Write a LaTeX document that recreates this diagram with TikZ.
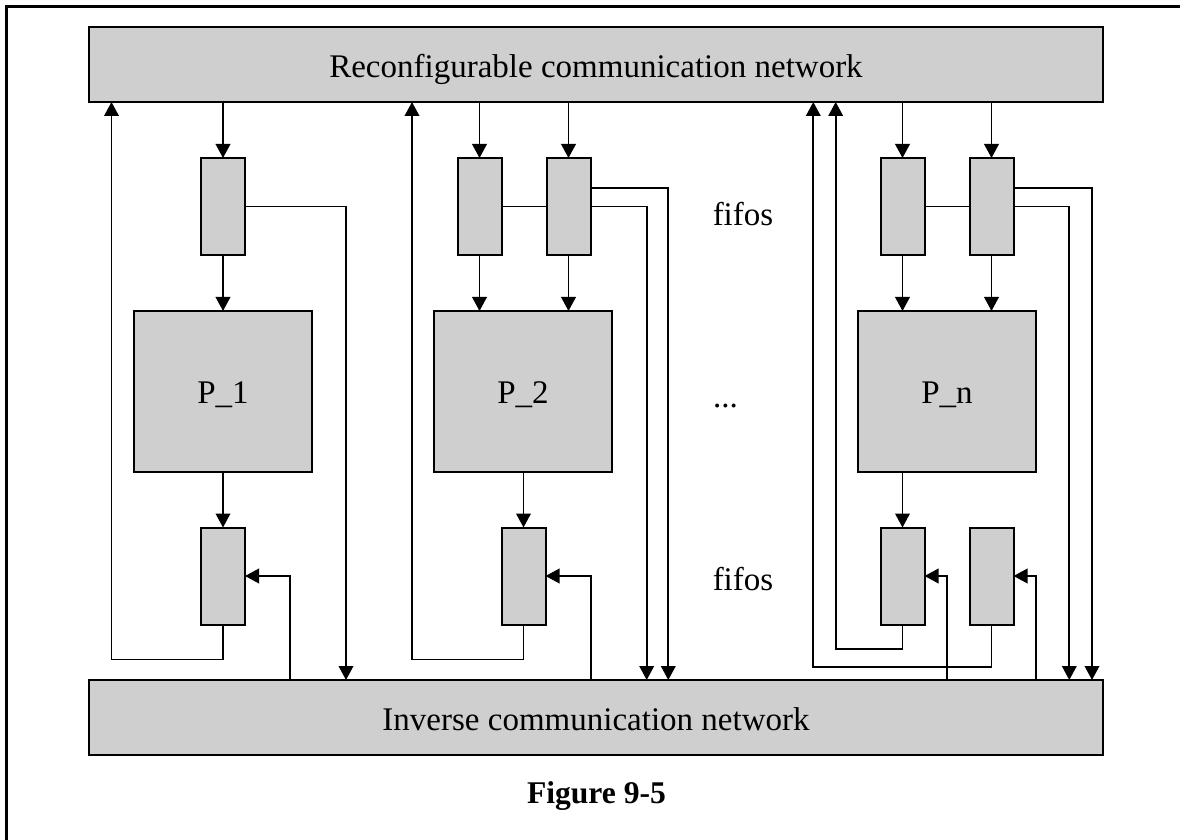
\documentclass[tikz,border=0pt]{standalone}
\usepackage{fontspec}
\setmainfont{Liberation Serif}
\usetikzlibrary{arrows.meta}
\definecolor{boxgray}{RGB}{207,207,207}
\begin{document}
\begin{tikzpicture}[x=0.5pt,y=-0.5pt,
  every node/.style={font=\fontsize{16.5}{19}\selectfont, inner sep=0pt, outer sep=0pt},
  netbox/.style={draw, line width=1pt, fill=boxgray, minimum width=507pt, minimum height=37.5pt,
                 text height=13pt, text depth=0pt},
  fifo/.style={draw, line width=1pt, fill=boxgray, minimum width=22pt, minimum height=48.5pt},
  procbox/.style={draw, line width=1pt, fill=boxgray, minimum width=89pt, minimum height=80.5pt,
                  text height=11.5pt, text depth=0pt},
  wire/.style={line width=0.9pt},
  arr/.style={wire, -{Triangle[length=7pt,width=7.3pt]}},
  lbl/.style={anchor=base}]
\useasboundingbox (0,0) rectangle (1180,840);

% frame
\draw[line width=1.5pt] (6,840) -- (6,6.5) -- (1180,6.5);

% networks
\node[netbox] (top) at (596,64.5) {Reconfigurable communication network};
\node[netbox] (bot) at (596,717.5) {Inverse communication network};

% column 1
\node[fifo] (f1) at (223,206.5) {};
\node[procbox] (p1) at (223,391.5) {P\_1};
\node[fifo] (g1) at (223,576) {};

% column 2
\node[fifo] (f2a) at (479.5,206.5) {};
\node[fifo] (f2b) at (568.5,206.5) {};
\node[procbox] (p2) at (523,391.5) {P\_2};
\node[fifo] (g2) at (523.5,576) {};

% column n
\node[fifo] (fna) at (902.5,206.5) {};
\node[fifo] (fnb) at (991.5,206.5) {};
\node[procbox] (pn) at (947,391.5) {P\_n};
\node[fifo] (gna) at (902.5,576) {};
\node[fifo] (gnb) at (991.5,576) {};

% labels
\node[lbl] (lfa) at (743,226) {fifos};
\node[lbl] (lfb) at (743,590) {fifos};
\node[lbl] (ldots) at (725.5,408) {...};
\node[lbl, font=\fontsize{15.8}{19}\selectfont\bfseries] (cap) at (596.5,803) {Figure 9-5};

% connection points on the network boxes
\coordinate (u1) at (111.5,102);
\coordinate (u2) at (412,102);
\coordinate (un1) at (813.3,102);
\coordinate (un2) at (835.7,102);
\coordinate (d1) at (346,680);
\coordinate (d2a) at (646.7,680);
\coordinate (d2b) at (668.3,680);
\coordinate (dna) at (1069.3,680);
\coordinate (dnb) at (1092,680);
\coordinate (b1) at (290,680);
\coordinate (b2) at (591,680);
\coordinate (bn1) at (946.7,680);
\coordinate (bn2) at (1036,680);

% column 1 wiring
\draw[arr] (top.south -| f1) -- (f1.north);
\draw[arr] (f1.south) -- (f1.south |- p1.north);
\draw[arr] (p1.south -| g1) -- (g1.north);
\draw[arr] (f1.east) -| (d1);
\draw[arr] (g1.south) -- ++(0,35) -| (u1);
\draw[arr] (b1) |- (g1.east);

% column 2 wiring
\draw[arr] (top.south -| f2a) -- (f2a.north);
\draw[arr] (top.south -| f2b) -- (f2b.north);
\draw[arr] (f2a.south) -- (f2a.south |- p2.north);
\draw[arr] (f2b.south) -- (f2b.south |- p2.north);
\draw[wire] (f2a.east) -- (f2b.west);
\draw[arr] (p2.south -| g2) -- (g2.north);
\draw[arr] ([yshift=9.4pt]f2b.east) -| (d2b);
\draw[arr] (f2b.east) -| (d2a);
\draw[arr] (g2.south) -- ++(0,35) -| (u2);
\draw[arr] (b2) |- (g2.east);

% column n wiring
\draw[arr] (top.south -| fna) -- (fna.north);
\draw[arr] (top.south -| fnb) -- (fnb.north);
\draw[arr] (fna.south) -- (fna.south |- pn.north);
\draw[arr] (fnb.south) -- (fnb.south |- pn.north);
\draw[wire] (fna.east) -- (fnb.west);
\draw[arr] (pn.south -| gna) -- (gna.north);
\draw[arr] ([yshift=9.4pt]fnb.east) -| (dnb);
\draw[arr] (fnb.east) -| (dna);
\draw[arr] (gna.south) -- ++(0,24.3) -| (un2);
\draw[arr] (gnb.south) -- ++(0,42.7) -| (un1);
\draw[arr] (bn1) |- (gna.east);
\draw[arr] (bn2) |- (gnb.east);
\end{tikzpicture}
\end{document}
